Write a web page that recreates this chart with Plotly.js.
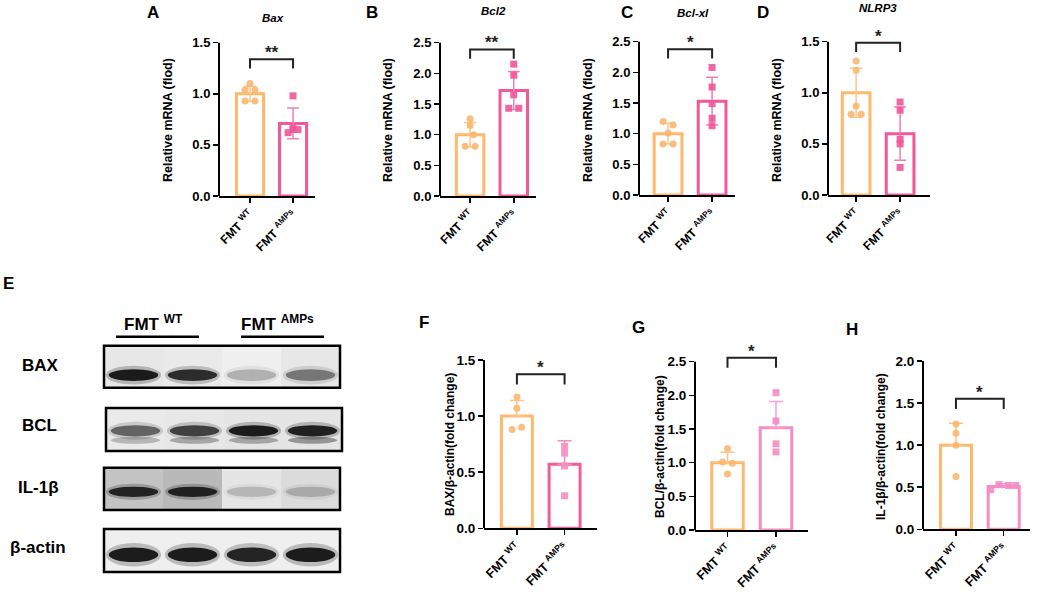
<!DOCTYPE html>
<html>
<head>
<meta charset="utf-8">
<script src="https://cdn.plot.ly/plotly-3.0.1.min.js"></script>
<style>html,body{margin:0;padding:0;background:#fff}#fig{width:1038px;height:594px}</style>
</head>
<body>
<div id="fig"></div>
<script>
// group tick labels
const groups = ['FMT <sup>WT</sup>', 'FMT <sup>AMPs</sup>'];

// qPCR, relative mRNA (A-D)
const bax_wt = [1.10, 1.04, 1.04, 0.93, 0.93];
const bax_amps = [0.98, 0.62, 0.65, 0.65, 0.66];
const bax_mean = [1.00, 0.71];
const bax_sd = [0.075, 0.15];

const bcl2_wt = [1.26, 1.15, 1.00, 0.81, 0.81];
const bcl2_amps = [2.15, 1.97, 1.65, 1.43, 1.43];
const bcl2_mean = [1.00, 1.72];
const bcl2_sd = [0.20, 0.31];

const bclxl_wt = [1.20, 1.14, 1.01, 0.83, 0.83];
const bclxl_amps = [2.08, 1.76, 1.49, 1.25, 1.13];
const bclxl_mean = [1.00, 1.53];
const bclxl_sd = [0.17, 0.39];

const nlrp3_wt = [1.31, 1.22, 0.87, 0.79, 0.79];
const nlrp3_amps = [0.91, 0.83, 0.545, 0.50, 0.27];
const nlrp3_mean = [1.00, 0.60];
const nlrp3_sd = [0.24, 0.26];

// western blot quantification (F-H)
const baxWB_wt = [1.17, 1.07, 0.90, 0.88];
const baxWB_amps = [0.73, 0.67, 0.555, 0.29];
const baxWB_mean = [1.00, 0.57];
const baxWB_sd = [0.14, 0.21];

const bclWB_wt = [1.21, 1.01, 0.99, 0.83];
const bclWB_amps = [2.04, 1.62, 1.28, 1.16];
const bclWB_mean = [1.00, 1.52];
const bclWB_sd = [0.155, 0.39];

const il1bWB_wt = [1.25, 1.14, 1.00, 0.626];
const il1bWB_amps = [0.47, 0.53, 0.52, 0.52];
const il1bWB_mean = [1.00, 0.51];
const il1bWB_sd = [0.26, 0.03];

// blot band intensities, lanes WT1 WT2 AMPs1 AMPs2
const blotRows = ['BAX', 'BCL', 'IL-1β', 'β-actin'];
const bax_band = [1.0, 0.9, 0.25, 0.5];
const bcl_band = [0.6, 0.78, 1.0, 0.97];
const bcl_band2 = [0.22, 0.28, 0.28, 0.35];
const il1b_band = [0.92, 0.92, 0.2, 0.22];
const actin_band = [1.0, 1.0, 0.95, 1.0];
const bax_haze = [0.05, 0.04, 0.02, 0.05];
const bcl_haze = [0.04, 0.05, 0.06, 0.06];
const il1b_haze = [0.2, 0.24, 0.06, 0.1];
const actin_haze = [0.02, 0.02, 0.02, 0.02];

const W = 1038, H = 594;
const FONT = 'Arial, "Liberation Sans", sans-serif';
const px = x => x / W;
const py = y => 1 - y / H;

const ORANGE = {bar: '#FFB86C', err: '#FFC48A', pt: '#F9B870'};
const PINK = {bar: '#F2589A', err: '#F57EB2', pt: '#F0579A'};
const PINK_F = {bar: '#F45C95', err: '#F58CC0', pt: '#F48FC2'};
const PINK_L = {bar: '#F78CC6', err: '#F7A0CF', pt: '#F48CC3'};

const panels = [
    {letter: 'A', lxy: [153, 13], title: 'Bax', txy: [273, 18], ytitle: 'Relative mRNA (flod)', yt: [168, 120],
     wt: bax_wt, amps: bax_amps, mean: bax_mean, sd: bax_sd, jw: [0, -1, 1, -1, 1], ja: [0, -1, 0, 1, 0],
     ax: [219, 315], zero: 196, top: 42.7, xr: [-0.72, 1.51], ymax: 1.5, br: 1.337, star: '**', pink: PINK, both: true},
    {letter: 'B', lxy: [372, 13], title: 'Bcl2', txy: [493, 11], ytitle: 'Relative mRNA (flod)', yt: [388, 120],
     wt: bcl2_wt, amps: bcl2_amps, mean: bcl2_mean, sd: bcl2_sd, jw: [0, 0, 0.7, -1, 1], ja: [0, 0, 0, -1, 1],
     ax: [440, 536], zero: 196, top: 42.7, xr: [-0.69, 1.51], ymax: 2.5, br: 2.39, star: '**', pink: PINK, both: true},
    {letter: 'C', lxy: [627, 13], title: 'Bcl-xl', txy: [693, 13], ytitle: 'Relative mRNA (flod)', yt: [588, 120],
     wt: bclxl_wt, amps: bclxl_amps, mean: bclxl_mean, sd: bclxl_sd, jw: [-1, 1, 0, -1, 1], ja: [0, 0, 0, 0, 0],
     ax: [639, 735], zero: 195, top: 41.7, xr: [-0.66, 1.52], ymax: 2.5, br: 2.375, star: '*', pink: PINK, both: true},
    {letter: 'D', lxy: [763, 13], title: 'NLRP3', txy: [878, 8], ytitle: 'Relative mRNA (flod)', yt: [777, 120],
     wt: nlrp3_wt, amps: nlrp3_amps, mean: nlrp3_mean, sd: nlrp3_sd, jw: [0, 0, 0, -1, 1], ja: [0, 0, 0, 0, 0],
     ax: [828, 930], zero: 195, top: 41.7, xr: [-0.64, 1.68], ymax: 1.5, br: 1.49, star: '*', pink: PINK, both: true},
    {letter: 'F', lxy: [424, 322], ytitle: 'BAX/β-actin(fold change)', yt: [450, 445],
     wt: baxWB_wt, amps: baxWB_amps, mean: baxWB_mean, sd: baxWB_sd, jw: [0, 0, 1, -1], ja: [0, 0, 0, 0],
     ax: [484, 597], zero: 528.3, top: 360, xr: [-0.69, 1.68], ymax: 1.5, br: 1.372, star: '*', pink: PINK_F, both: false},
    {letter: 'G', lxy: [638, 327], ytitle: 'BCL/β-actin(fold change)', yt: [660, 447],
     wt: bclWB_wt, amps: bclWB_amps, mean: bclWB_mean, sd: bclWB_sd, jw: [0, -1, 1, 0], ja: [0, 0, 0, 0],
     ax: [695, 808], zero: 530, top: 361.7, xr: [-0.67, 1.66], ymax: 2.5, br: 2.56, star: '*', pink: PINK_L, both: false},
    {letter: 'H', lxy: [852, 329], ytitle: 'IL-1β/β-actin(fold change)', yt: [881, 447],
     wt: il1bWB_wt, amps: il1bWB_amps, mean: il1bWB_mean, sd: il1bWB_sd, jw: [0, 0, 0, 0], ja: [-2.7, -1, 1, 2.5],
     ax: [923, 1030], zero: 529.3, top: 361, xr: [-0.69, 1.55], ymax: 2.0, br: 1.55, star: '*', pink: PINK_L, both: false}
];

const blots = [
    {band: bax_band, haze: bax_haze, box: [104, 340, 345.7, 387.7], by: 0.30, bh: 0.14, label: [40, 365]},
    {band: bcl_band, haze: bcl_haze, band2: bcl_band2, box: [106, 342, 408, 451], by: 0.47, bh: 0.13, by2: 0.25, label: [39, 425]},
    {band: il1b_band, haze: il1b_haze, box: [104, 340, 467.7, 510], by: 0.43, bh: 0.12, label: [38, 487]},
    {band: actin_band, haze: actin_haze, box: [104, 340, 529, 572], by: 0.40, bh: 0.17, label: [38, 547]}
];

const traces = [];
const layout = {
    width: W, height: H,
    margin: {l: 0, r: 0, t: 0, b: 0},
    paper_bgcolor: 'white', plot_bgcolor: 'rgba(0,0,0,0)',
    showlegend: false, barmode: 'overlay', hovermode: false,
    font: {family: FONT, color: 'black'},
    shapes: [], annotations: []
};

const note = (x, y, text, size, extra) => {
    layout.annotations.push(Object.assign({xref: 'paper', yref: 'paper', x: px(x), y: py(y),
        xanchor: 'center', yanchor: 'middle', text: text, showarrow: false,
        font: {family: FONT, size: size, weight: 'bold', color: 'black'}}, extra || {}));
};

const fig = {
    addPanel: (k, p) => {
        const xid = k === 1 ? 'x' : 'x' + k;
        const yid = k === 1 ? 'y' : 'y' + k;
        const top = p.top - 0.2 * (p.zero - p.top);
        const bottomRow = !p.both;
        const unit = bottomRow ? 0.1 : 0.115;
        const tv = [];
        for (let v = 0; v <= p.ymax + 1e-9; v += 0.5) tv.push(v);

        layout['xaxis' + (k === 1 ? '' : k)] = {
            domain: [px(p.ax[0]), px(p.ax[1])], range: p.xr, anchor: yid,
            tickvals: [0, 1], ticktext: groups, tickangle: -45,
            ticks: 'outside', ticklen: 5, tickwidth: 1.5, tickcolor: 'black',
            showline: true, linewidth: 2, linecolor: 'black',
            showgrid: false, zeroline: false, fixedrange: true,
            tickfont: {family: FONT, size: bottomRow ? 12.5 : 12, weight: 'bold', color: 'black'}
        };
        layout['yaxis' + (k === 1 ? '' : k)] = {
            domain: [py(p.zero), py(top)], range: [0, p.ymax * 1.2], anchor: xid,
            tickvals: tv, ticktext: tv.map(v => v.toFixed(1)),
            ticks: 'outside', ticklen: 5, tickwidth: 1.5, tickcolor: 'black',
            showline: false, showgrid: false, zeroline: false, fixedrange: true,
            tickfont: {family: FONT, size: bottomRow ? 13.5 : 13, weight: 'bold', color: 'black'}
        };
        // y axis line only up to the last tick
        layout.shapes.push({type: 'line', xref: xid + ' domain', yref: yid, x0: 0, x1: 0, y0: 0, y1: p.ymax,
            line: {color: 'black', width: 2}});
        note(p.yt[0], p.yt[1], p.ytitle, bottomRow ? 12 : 12.5, {textangle: -90});

        const cols = [ORANGE, p.pink];
        const pts = [p.wt, p.amps];
        const jit = [p.jw, p.ja];
        [0, 1].forEach(i => {
            traces.push({
                type: 'bar', x: [i], y: [p.mean[i]], width: bottomRow ? 0.65 : 0.63,
                xaxis: xid, yaxis: yid,
                marker: {color: 'rgba(255,255,255,0)', line: {color: cols[i].bar, width: 3}},
                error_y: p.both
                    ? {type: 'data', array: [p.sd[i]], color: cols[i].err, thickness: 1.5, width: 6}
                    : {type: 'data', symmetric: false, array: [p.sd[i]], arrayminus: [0], color: cols[i].err, thickness: 1.5, width: 7}
            });
            traces.push({
                type: 'scatter', mode: 'markers', xaxis: xid, yaxis: yid, cliponaxis: false,
                x: pts[i].map((v, j) => i + jit[i][j] * unit), y: pts[i],
                marker: {symbol: i === 0 ? 'circle' : 'square', size: 7, color: cols[i].pt, opacity: 0.9, line: {width: 0}}
            });
        });

        // significance bracket
        const leg = p.ymax * 0.06;
        traces.push({
            type: 'scatter', mode: 'lines', xaxis: xid, yaxis: yid,
            x: [0, 0, 1, 1], y: [p.br - leg, p.br, p.br, p.br - leg],
            line: {color: '#222', width: 2}
        });
        layout.annotations.push({xref: xid, yref: yid, x: 0.5, y: p.br, xanchor: 'center', yanchor: 'bottom', yshift: -5,
            text: p.star, showarrow: false, font: {family: FONT, size: 17, weight: 'bold', color: '#222'}});

        note(p.lxy[0], p.lxy[1], p.letter, 17);
        if (p.title) note(p.txy[0], p.txy[1], '<i>' + p.title + '</i>', 11.5);
    },
    addBlot: (k, b, name) => {
        const xid = 'x' + k, yid = 'y' + k;
        layout['xaxis' + k] = {domain: [px(b.box[0]), px(b.box[1])], range: [0, 4], anchor: yid, visible: false, fixedrange: true};
        layout['yaxis' + k] = {domain: [py(b.box[3]), py(b.box[2])], range: [0, 1], anchor: xid, visible: false, fixedrange: true};
        const dx = xid + ' domain', dy = yid + ' domain';
        layout.shapes.push({type: 'rect', xref: dx, yref: dy, x0: 0, x1: 1, y0: 0, y1: 1,
            fillcolor: '#f4f4f4', line: {width: 0}, layer: 'below'});
        b.band.forEach((v, i) => {
            const c = i + 0.5;
            layout.shapes.push({type: 'rect', xref: xid, yref: yid, x0: c - 0.5, x1: c + 0.5, y0: 0, y1: 1,
                fillcolor: 'rgba(0,0,0,' + b.haze[i] + ')', line: {width: 0}});
            layout.shapes.push({type: 'circle', xref: xid, yref: yid, x0: c - 0.47, x1: c + 0.47,
                y0: b.by - b.bh * 1.6, y1: b.by + b.bh * 1.6,
                fillcolor: 'rgba(0,0,0,' + (v * 0.22).toFixed(3) + ')', line: {width: 0}});
            layout.shapes.push({type: 'circle', xref: xid, yref: yid, x0: c - 0.42, x1: c + 0.42,
                y0: b.by - b.bh, y1: b.by + b.bh,
                fillcolor: 'rgba(0,0,0,' + (v * 0.85).toFixed(3) + ')', line: {width: 0}});
            if (b.band2) {
                layout.shapes.push({type: 'circle', xref: xid, yref: yid, x0: c - 0.42, x1: c + 0.42,
                    y0: b.by2 - 0.08, y1: b.by2 + 0.08,
                    fillcolor: 'rgba(0,0,0,' + b.band2[i] + ')', line: {width: 0}});
            }
        });
        layout.shapes.push({type: 'rect', xref: dx, yref: dy, x0: 0, x1: 1, y0: 0, y1: 1,
            line: {color: 'black', width: 2.5}});
        note(b.label[0], b.label[1], name, 17);
    }
};

panels.forEach((p, i) => fig.addPanel(i + 1, p));
blots.forEach((b, i) => fig.addBlot(panels.length + 1 + i, b, blotRows[i]));

// panel E header
note(8, 283, 'E', 17);
[[153, 116, 199], [277, 241, 324]].forEach((h, i) => {
    note(h[0], 323, groups[i], 17);
    layout.shapes.push({type: 'line', xref: 'paper', yref: 'paper', x0: px(h[1]), x1: px(h[2]), y0: py(336.7), y1: py(336.7),
        line: {color: 'black', width: 2.5}});
});

Plotly.newPlot('fig', traces, layout, {staticPlot: true, displayModeBar: false});
</script>
</body>
</html>
